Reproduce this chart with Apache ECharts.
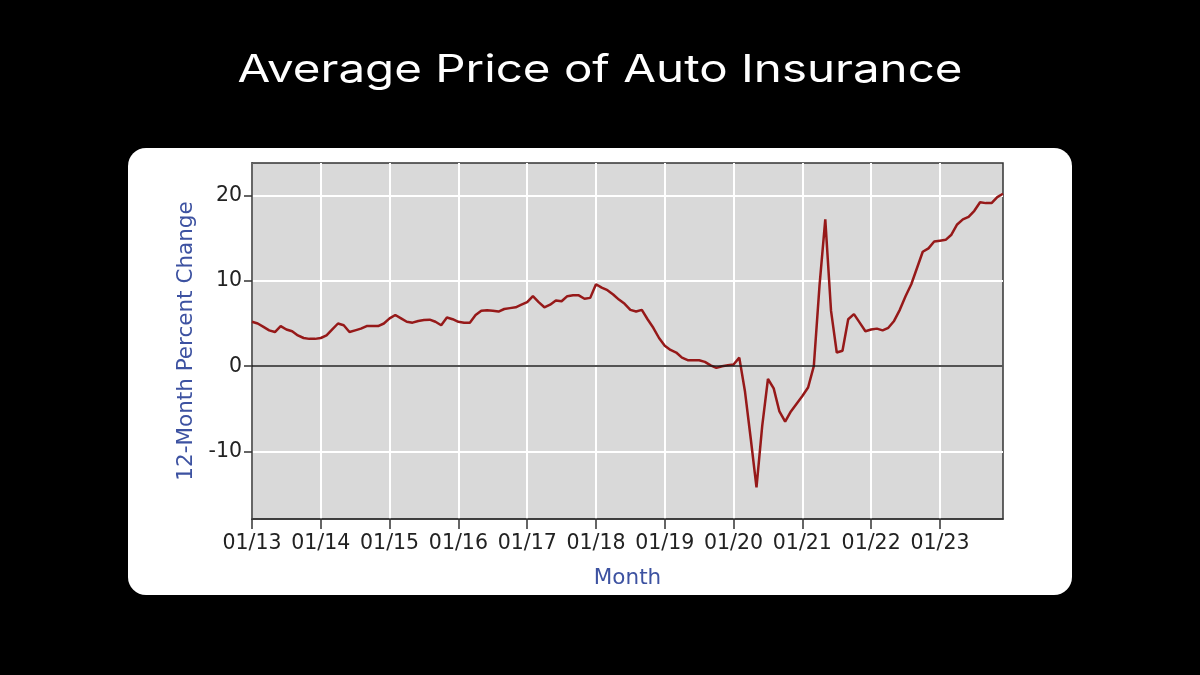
<!DOCTYPE html>
<html lang="en">
<head>
    <meta charset="UTF-8">
    <title>Average Price of Auto Insurance</title>
    <script src="https://cdn.jsdelivr.net/npm/echarts@6/dist/echarts.min.js"></script>
    <style>
        html, body { margin: 0; padding: 0; background: #000; }
        #chart { width: 1200px; height: 675px; }
    </style>
</head>
<body>
<div id="chart"></div>
<script>
    // years and months used to build the monthly category labels
    var years = ['13', '14', '15', '16', '17', '18', '19', '20', '21', '22', '23'];
    var months = ['01', '02', '03', '04', '05', '06', '07', '08', '09', '10', '11', '12'];

    // 12-month percent change, Jan 2013 - Dec 2023
    var pct2013 = [5.2, 5.0, 4.6, 4.2, 4.0, 4.7, 4.3, 4.1, 3.6, 3.3, 3.2, 3.2];
    var pct2014 = [3.3, 3.6, 4.3, 5.0, 4.8, 4.0, 4.2, 4.4, 4.7, 4.7, 4.7, 5.0];
    var pct2015 = [5.6, 6.0, 5.6, 5.2, 5.1, 5.3, 5.4, 5.45, 5.2, 4.8, 5.7, 5.5];
    var pct2016 = [5.2, 5.1, 5.1, 6.0, 6.5, 6.55, 6.5, 6.4, 6.7, 6.8, 6.9, 7.2];
    var pct2017 = [7.5, 8.2, 7.5, 6.9, 7.2, 7.7, 7.6, 8.2, 8.3, 8.3, 7.9, 8.0];
    var pct2018 = [9.6, 9.2, 8.9, 8.4, 7.8, 7.3, 6.6, 6.4, 6.6, 5.5, 4.5, 3.3];
    var pct2019 = [2.4, 1.9, 1.6, 1.0, 0.7, 0.7, 0.7, 0.5, 0.1, -0.2, 0.0, 0.1];
    var pct2020 = [0.2, 1.0, -3.0, -8.5, -14.2, -7.0, -1.5, -2.6, -5.3, -6.5, -5.3, -4.4];
    var pct2021 = [-3.5, -2.5, 0.0, 9.5, 17.2, 6.5, 1.6, 1.8, 5.5, 6.1, 5.1, 4.1];
    var pct2022 = [4.3, 4.4, 4.2, 4.5, 5.3, 6.6, 8.2, 9.6, 11.5, 13.4, 13.8, 14.6];
    var pct2023 = [14.7, 14.8, 15.4, 16.6, 17.2, 17.5, 18.2, 19.2, 19.1, 19.1, 19.8, 20.2];

    var yTicks = [-10, 0, 10, 20];

    var categories = [];
    years.forEach(function (y) {
        months.forEach(function (m) {
            categories.push(m + '/' + y);
        });
    });
    var values = [].concat(pct2013, pct2014, pct2015, pct2016, pct2017, pct2018,
        pct2019, pct2020, pct2021, pct2022, pct2023);

    var myChart = echarts.init(document.getElementById('chart'));
    var tickFont = {fontFamily: 'DejaVu Sans', fontSize: 20.5, color: '#222'};
    var nameFont = {fontFamily: 'DejaVu Sans', fontSize: 21.5, color: '#3d52a1'};

    var option = {
        backgroundColor: '#000',
        animation: false,
        graphic: [{
            // white card behind the plot
            type: 'rect',
            z: -10,
            shape: {x: 128, y: 148, width: 944, height: 447, r: 18},
            style: {fill: '#fff'}
        }, {
            // title, stretched a bit to look like the wide geometric face
            type: 'text',
            x: 600,
            y: 71,
            scaleX: 1.25,
            style: {
                text: 'Average Price of Auto Insurance',
                fill: '#fff',
                font: '38px Inter',
                textAlign: 'center',
                textVerticalAlign: 'middle'
            }
        }],
        grid: {
            left: 252, top: 163, right: 197, bottom: 156,
            show: true,
            backgroundColor: '#d9d9d9',
            borderColor: '#333',
            borderWidth: 1.5
        },
        xAxis: {
            type: 'category',
            data: categories,
            boundaryGap: false,
            name: 'Month',
            nameLocation: 'middle',
            nameGap: 48,
            nameTextStyle: nameFont,
            axisLine: {onZero: false, lineStyle: {color: '#333', width: 1.5}},
            axisTick: {interval: 11, length: 10, lineStyle: {color: '#333', width: 1.5}},
            axisLabel: Object.assign({interval: 11, margin: 14}, tickFont),
            splitLine: {show: true, interval: 11, lineStyle: {color: '#fff', width: 2}}
        },
        yAxis: {
            type: 'value',
            min: -17.9,
            max: 23.8,
            name: '12-Month Percent Change',
            nameLocation: 'middle',
            nameGap: 49,
            nameTextStyle: nameFont,
            axisLine: {show: true, lineStyle: {color: '#333', width: 1.5}},
            axisTick: {show: true, customValues: yTicks, length: 8, lineStyle: {color: '#333', width: 1.5}},
            axisLabel: Object.assign({customValues: yTicks, margin: 10}, tickFont),
            splitLine: {show: true, lineStyle: {color: '#fff', width: 2}}
        },
        series: [{
            type: 'line',
            data: values,
            showSymbol: false,
            lineStyle: {color: '#961919', width: 2.5},
            markLine: {
                silent: true,
                symbol: 'none',
                label: {show: false},
                lineStyle: {color: '#1a1a1a', width: 1.5, type: 'solid'},
                data: [{yAxis: 0}]
            }
        }]
    };
    myChart.setOption(option);
</script>
</body>
</html>
